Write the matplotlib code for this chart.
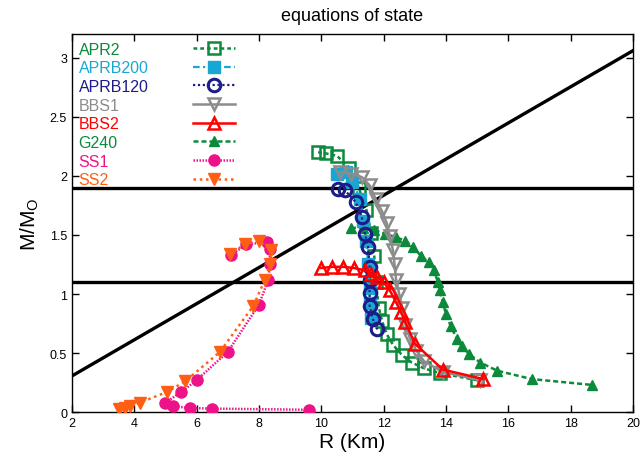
import matplotlib
matplotlib.use("Agg")
import matplotlib.pyplot as plt
from matplotlib.lines import Line2D
import numpy as np

plt.rcParams['font.family'] = ['Liberation Sans', 'DejaVu Sans']
plt.rcParams['mathtext.default'] = 'regular'

# ---- data (R in km, M in solar masses) ----
apr2_r = [9.9, 10.15, 10.5, 10.9, 11.2, 11.45, 11.6, 11.7, 11.75, 11.85, 11.95, 12.1, 12.3, 12.6, 12.9, 13.3, 13.8, 15.0]
apr2_m = [2.20, 2.19, 2.17, 2.07, 1.90, 1.71, 1.52, 1.32, 1.10, 0.88, 0.77, 0.66, 0.57, 0.48, 0.42, 0.37, 0.33, 0.27]

aprb200_r = [10.5, 10.8, 11.0, 11.25, 11.35, 11.45, 11.5, 11.55, 11.55, 11.6]
aprb200_m = [2.02, 2.03, 1.95, 1.80, 1.62, 1.45, 1.25, 1.05, 0.92, 0.80]

aprb120_r = [10.55, 10.75, 11.1, 11.3, 11.4, 11.5, 11.55, 11.55, 11.55, 11.55, 11.65, 11.8]
aprb120_m = [1.89, 1.88, 1.78, 1.65, 1.51, 1.40, 1.23, 1.12, 1.01, 0.90, 0.79, 0.70]

bbs1_r = [10.6, 10.95, 11.3, 11.55, 11.75, 11.95, 12.1, 12.2, 12.3, 12.35, 12.4, 12.5, 12.6, 12.7, 12.85, 13.05, 13.3, 13.9, 15.1]
bbs1_m = [2.03, 2.02, 1.99, 1.92, 1.80, 1.70, 1.60, 1.49, 1.37, 1.25, 1.12, 1.00, 0.88, 0.74, 0.62, 0.52, 0.43, 0.34, 0.27]

bbs2_r = [10.0, 10.35, 10.7, 11.05, 11.4, 11.6, 11.8, 12.0, 12.2, 12.4, 12.55, 12.7, 13.0, 13.9, 15.2]
bbs2_m = [1.22, 1.23, 1.23, 1.22, 1.20, 1.17, 1.14, 1.10, 1.03, 0.93, 0.85, 0.76, 0.58, 0.36, 0.28]

g240_r = [10.95, 11.35, 11.7, 12.05, 12.4, 12.7, 12.95, 13.2, 13.45, 13.6, 13.75, 13.8, 13.9, 14.0, 14.15, 14.35, 14.5, 14.75, 15.1, 15.65, 16.75, 18.7]
g240_m = [1.56, 1.56, 1.54, 1.51, 1.48, 1.45, 1.40, 1.32, 1.27, 1.20, 1.10, 1.03, 0.93, 0.83, 0.73, 0.62, 0.56, 0.49, 0.42, 0.35, 0.28, 0.23]

ss1_r = [7.1, 7.6, 8.25, 8.35, 8.35, 8.3, 8.0, 7.0, 6.0, 5.5, 5.0, 5.25, 5.8, 6.5, 9.6]
ss1_m = [1.33, 1.42, 1.44, 1.38, 1.25, 1.12, 0.91, 0.51, 0.27, 0.17, 0.08, 0.05, 0.035, 0.03, 0.02]

ss2_r = [3.5, 3.7, 3.85, 4.18, 5.04, 5.63, 6.75, 7.82, 8.19, 8.35, 8.4, 8.0, 7.55, 7.07]
ss2_m = [0.025, 0.035, 0.05, 0.08, 0.17, 0.26, 0.51, 0.90, 1.12, 1.25, 1.37, 1.45, 1.42, 1.34]

ref_masses = [1.9, 1.1]
diag_r = [2, 20]
diag_m = [0.306, 3.06]

fig = plt.figure(figsize=(6.42, 4.56), dpi=100)
ax = fig.add_axes([0.112, 0.094, 0.874, 0.829])

GREEN = '#0b8a3c'
CYAN = '#1aa6d2'
NAVY = '#1c1c8a'
GRAY = '#8c8c8c'
RED = '#ff0000'
PINK = '#ee1289'
ORANGE = '#ff5f15'

# reference lines
for m in ref_masses:
    ax.axhline(m, color='black', lw=2.4, zorder=1)
ax.plot(diag_r, diag_m, color='black', lw=2.4, zorder=1)

handles = []
handles += ax.plot(apr2_r, apr2_m, color=GREEN, ls=(0, (1.5, 1.2)), lw=1.8, marker='s', ms=9,
                   mfc='none', mec=GREEN, mew=1.8, label='APR2', zorder=3)
handles += ax.plot(aprb200_r, aprb200_m, color=CYAN, ls=(0, (3, 1.5, 1, 1.5)), lw=1.6, marker='s', ms=8,
                   mfc=CYAN, mec=CYAN, label='APRB200', zorder=4)
handles += ax.plot(aprb120_r, aprb120_m, color=NAVY, ls=(0, (1, 1.2)), lw=1.6, marker='o', ms=9,
                   mfc='none', mec=NAVY, mew=2.2, label='APRB120', zorder=5)
handles += ax.plot(bbs1_r, bbs1_m, color=GRAY, ls='-', lw=1.8, marker='v', ms=9,
                   mfc='none', mec=GRAY, mew=1.8, label='BBS1', zorder=4)
handles += ax.plot(bbs2_r, bbs2_m, color=RED, ls='-', lw=1.8, marker='^', ms=9,
                   mfc='none', mec=RED, mew=1.8, label='BBS2', zorder=6)
handles += ax.plot(g240_r, g240_m, color=GREEN, ls=(0, (2, 1.2)), lw=1.8, marker='^', ms=7,
                   mfc=GREEN, mec=GREEN, label='G240', zorder=3)
handles += ax.plot(ss1_r, ss1_m, color=PINK, ls=(0, (0.6, 0.6)), lw=1.8, marker='o', ms=8,
                   mfc=PINK, mec=PINK, label='SS1', zorder=3)
handles += ax.plot(ss2_r, ss2_m, color=ORANGE, ls=(0, (1, 1.5)), lw=1.8, marker='v', ms=8,
                   mfc=ORANGE, mec=ORANGE, label='SS2', zorder=4)

ax.set_xlim(2, 20)
ax.set_ylim(0, 3.2)
ax.set_xticks(np.arange(2, 21, 2))
ax.set_yticks([0, 0.5, 1, 1.5, 2, 2.5, 3])
ax.set_yticklabels(['0', '0.5', '1', '1.5', '2', '2.5', '3'])
ax.tick_params(direction='in', top=True, right=True, labelsize=9, length=5, width=1)
for s in ax.spines.values():
    s.set_linewidth(1)

ax.set_title('equations of state', fontsize=13, pad=10)
ax.set_xlabel('R (Km)', fontsize=15, labelpad=2)
ax.set_ylabel('M/M$_O$', fontsize=15, labelpad=6)

labels = [h.get_label() for h in handles]
colors = [h.get_color() for h in handles]
LFS = 11.5
LSP = 0.23
TOP = 0.98

# legend 1: coloured labels (left aligned), no keys
blank = [Line2D([], [], linestyle='none') for _ in handles]
leg1 = ax.legend(blank, labels, loc='upper left', bbox_to_anchor=(0.012, TOP),
                 frameon=False, fontsize=LFS, labelcolor=colors, handlelength=0,
                 handletextpad=0, labelspacing=LSP, borderpad=0, borderaxespad=0)
ax.add_artist(leg1)

# legend 2: keys only (labels invisible to keep row heights identical)
leg2 = ax.legend(handles, labels, loc='upper left', bbox_to_anchor=(0.215, TOP),
                 frameon=False, fontsize=LFS, labelcolor='none', numpoints=1,
                 handlelength=2.65, handletextpad=0, labelspacing=LSP,
                 borderpad=0, borderaxespad=0)

fig.savefig('out.png', dpi=100)
